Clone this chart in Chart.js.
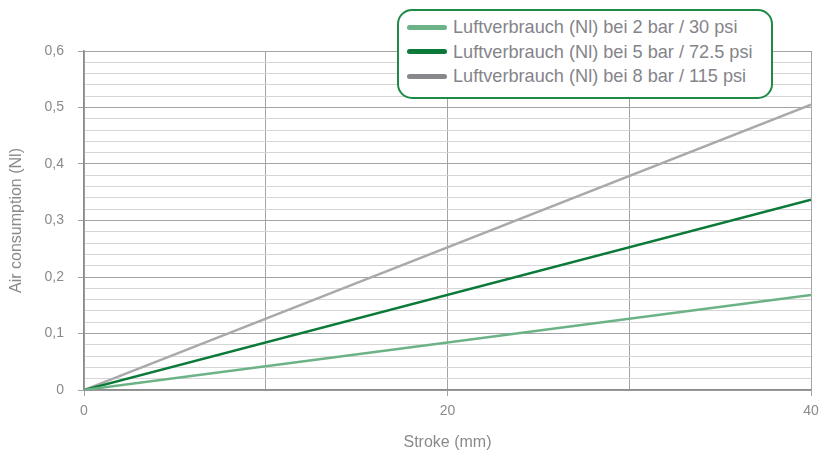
<!DOCTYPE html>
<html>
<head>
<meta charset="utf-8">
<script src="https://cdn.jsdelivr.net/npm/chart.js@4/dist/chart.umd.min.js"></script>
<style>
  html, body { margin: 0; padding: 0; background: #fff; }
  #wrap { position: relative; width: 822px; height: 452px; }
  #legend {
    position: absolute; left: 397px; top: 9px; width: 372px; height: 82px;
    border: 2px solid #1d8a46; border-radius: 15px; background: #fff;
    font-family: "Liberation Sans", Arial, sans-serif;
    font-size: 19px; color: #84848a; padding-top: 4px; box-sizing: content-box;
    white-space: nowrap;
  }
  .item { display: flex; align-items: center; height: 24.5px; }
  .swatch { flex: none; width: 40px; height: 5px; border-radius: 3px; margin: 0 6px 0 8px; }
  .txt { display: inline-block; transform: scaleX(0.955); transform-origin: left center; }
</style>
</head>
<body>
<div id="wrap">
  <canvas id="chart" width="822" height="452"></canvas>
  <div id="legend"></div>
</div>
<script>
// ===== Data =====
const strokeMm = [0, 40];
const air2bar = [0, 0.168];
const air5bar = [0, 0.337];
const air8bar = [0, 0.505];

const seriesNames = [
  'Luftverbrauch (Nl) bei 2 bar / 30 psi',
  'Luftverbrauch (Nl) bei 5 bar / 72.5 psi',
  'Luftverbrauch (Nl) bei 8 bar / 115 psi'
];
const lineColors = ['#6cb287', '#0b7a38', '#a9a9ab'];
const swatchColors = ['#6cb287', '#0b7a38', '#88888c'];

const xLabels = [0, 20, 40];

function points(values) {
  return strokeMm.map((x, i) => ({ x: x, y: values[i] }));
}

const isMajor = v => Math.abs(v * 10 - Math.round(v * 10)) < 1e-6;
const fontFace = '"Liberation Sans", Arial, sans-serif';
const textGrey = '#8a8a8a';

const ctx = document.getElementById('chart').getContext('2d');
const chart = new Chart(ctx, {
  type: 'line',
  data: {
    datasets: [air2bar, air5bar, air8bar].map((vals, i) => ({
      label: seriesNames[i],
      data: points(vals),
      borderColor: lineColors[i],
      borderWidth: 2.5,
      pointRadius: 0,
      tension: 0
    }))
  },
  options: {
    responsive: false,
    animation: false,
    layout: { padding: { top: 51, right: 11, left: 0, bottom: 0 } },
    plugins: { legend: { display: false }, tooltip: { enabled: false } },
    scales: {
      x: {
        type: 'linear',
        min: 0, max: 40,
        ticks: {
          stepSize: 10,
          color: textGrey,
          font: { family: fontFace, size: 14 },
          padding: 7,
          maxRotation: 0,
          callback: v => xLabels.includes(v) ? String(v) : ''
        },
        grid: {
          color: '#a5a5a5',
          lineWidth: 1,
          tickLength: 6,
          tickColor: c => xLabels.includes(c.tick && c.tick.value) ? '#a5a5a5' : 'rgba(0,0,0,0)'
        },
        border: { color: '#8c8c8c', width: 1.5 },
        title: {
          display: true, text: 'Stroke (mm)', color: textGrey,
          font: { family: fontFace, size: 16 }, padding: { top: 9, bottom: 0 }
        },
        afterFit: s => { s.height = 62; s.paddingLeft = 0; s.paddingRight = 0; }
      },
      y: {
        min: 0, max: 0.6,
        ticks: {
          stepSize: 0.02,
          autoSkip: false,
          color: textGrey,
          font: { family: fontFace, size: 14 },
          padding: 14,
          callback: v => isMajor(v) ? (Math.round(v * 10) === 0 ? '0' : (Math.round(v * 10) / 10).toFixed(1).replace('.', ',')) : ''
        },
        grid: {
          color: c => isMajor(c.tick.value) ? '#a3a3a3' : '#d6d6d6',
          lineWidth: 1,
          tickLength: 6,
          tickColor: c => isMajor(c.tick.value) ? '#a3a3a3' : 'rgba(0,0,0,0)'
        },
        border: { color: '#8c8c8c', width: 1.5 },
        title: {
          display: true, text: 'Air consumption (Nl)', color: textGrey,
          font: { family: fontFace, size: 16 }, padding: { top: 7, bottom: 4 }
        },
        afterFit: s => { s.width = 84; s.paddingTop = 0; s.paddingBottom = 0; }
      }
    }
  }
});

// ===== HTML legend =====
const legendEl = document.getElementById('legend');
chart.data.datasets.forEach((ds, i) => {
  const row = document.createElement('div');
  row.className = 'item';
  row.innerHTML = `<span class="swatch" style="background:${swatchColors[i]}"></span><span class="txt">${ds.label}</span>`;
  legendEl.appendChild(row);
});
</script>
</body>
</html>
